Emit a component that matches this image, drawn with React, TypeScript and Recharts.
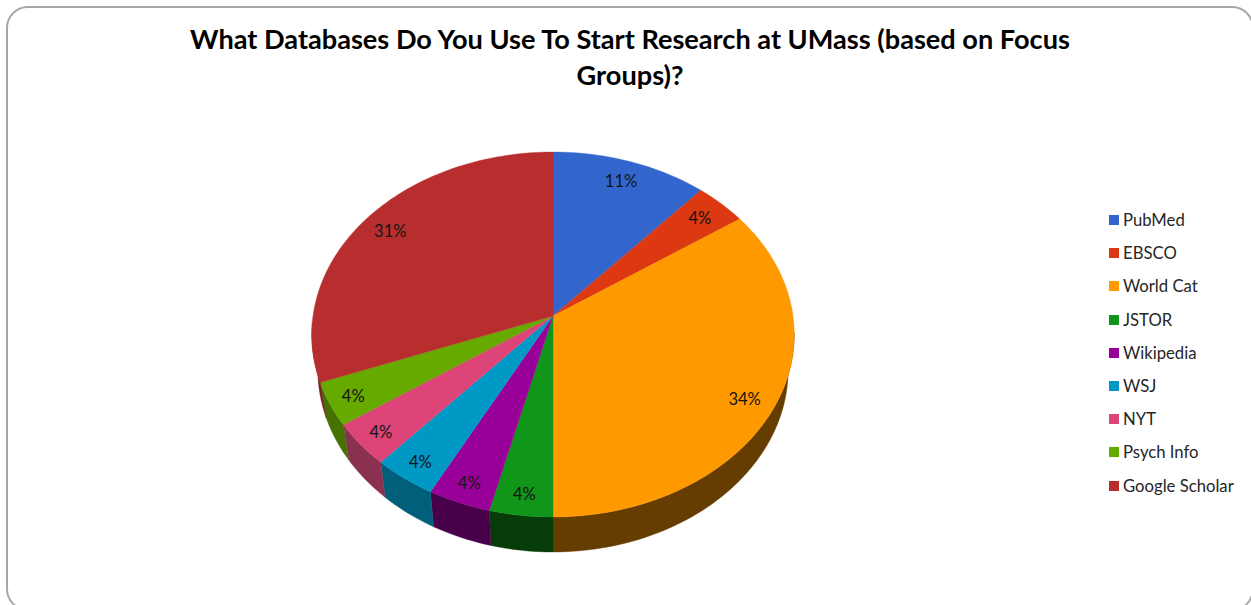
import React from "react";
import { PieChart, Pie, Legend } from "recharts";

const names = ["PubMed", "EBSCO", "World Cat", "JSTOR", "Wikipedia", "WSJ", "NYT", "Psych Info", "Google Scholar"];
const shares = [3, 1, 9, 1, 1, 1, 1, 1, 8];
const percentLabels = ["11%", "4%", "34%", "4%", "4%", "4%", "4%", "4%", "31%"];
const topColors = ["#3366cc", "#dc3912", "#ff9900", "#109618", "#990099", "#0099c6", "#dd4477", "#66aa00", "#b82e2e"];
const wallColors = ["#1f3d7a", "#84220b", "#663d00", "#063c0a", "#470049", "#005f7a", "#8a3050", "#457200", "#7a1f1f"];
const titleLines = ["What Databases Do You Use To Start Research at UMass (based on Focus", "Groups)?"];

const rows = names.map((name, i) => ({ name, value: shares[i], fill: topColors[i], wall: wallColors[i], pct: percentLabels[i] }));

const RAD = Math.PI / 180;
const TILT = 0.7525;
const PERSP = 0.1014;
const DEPTH = 35;
const FOOT = 0.975;

// Projects a point of the flat pie (clock angle, fraction of the radius) on the tilted disc.
function project(cx: number, cy: number, R: number, clock: number, r = 1) {
  const u = Math.sin(clock * RAD) * r;
  const v = Math.cos(clock * RAD) * r;
  const d = 1 + PERSP * v;
  return { x: cx + (R * u) / d, y: cy - (R * TILT * v) / d };
}

function arc(cx: number, cy: number, R: number, from: number, to: number) {
  const pts = [];
  const n = Math.max(2, Math.ceil((to - from) / 1.5));
  for (let i = 0; i <= n; i++) pts.push(project(cx, cy, R, from + ((to - from) * i) / n));
  return pts;
}

const toPath = (pts: { x: number; y: number }[]) =>
  pts.map((p, i) => `${i ? "L" : "M"}${p.x.toFixed(2)} ${p.y.toFixed(2)}`).join("") + "Z";

function TiltedSlice(props: any) {
  const { cx, cy, outerRadius: R, startAngle, endAngle, fill, wall } = props;
  const from = 90 - Math.max(startAngle, endAngle);
  const to = 90 - Math.min(startAngle, endAngle);
  const top = arc(cx, cy, R, from, to);
  const a = Math.max(from, 95);
  const b = Math.min(to, 268);
  let side = null;
  if (b > a) {
    const rim = arc(cx, cy, R, a, b);
    const foot = rim.map((p) => ({ x: cx + (p.x - cx) * FOOT, y: p.y + DEPTH })).reverse();
    side = <path d={toPath([...rim, ...foot])} fill={wall} stroke={wall} strokeWidth={0.4} />;
  }
  return (
    <g>
      {side}
      <path d={toPath([{ x: cx, y: cy }, ...top])} fill={fill} stroke={fill} strokeWidth={0.4} />
    </g>
  );
}

function SliceLabel(props: any) {
  const { cx, cy, outerRadius: R, midAngle, index, percent } = props;
  const clock = 90 - midAngle;
  const lower = Math.cos(clock * RAD) < 0;
  const small = percent < 0.1;
  const p = project(cx, cy, R, clock, lower && small ? 0.9 : 0.865);
  return (
    <text
      x={p.x}
      y={p.y + (lower ? (small ? 1 : 7) : 0)}
      textAnchor="middle"
      dominantBaseline="central"
      fontFamily="Lato"
      fontSize={16.5}
      fill="#141414"
    >
      {percentLabels[index]}
    </text>
  );
}

function LegendList({ payload }: any) {
  return (
    <div style={{ fontFamily: "Lato", fontSize: 16.7, color: "#262626" }}>
      {(payload || []).map((e: any) => (
        <div key={e.value} style={{ height: 33.2, display: "flex", alignItems: "center", whiteSpace: "nowrap" }}>
          <span style={{ width: 10, height: 10, background: e.color, marginRight: 4, flex: "none" }} />
          {e.value}
        </div>
      ))}
    </div>
  );
}

export default function App() {
  return (
    <div style={{ position: "absolute", left: 0, top: 0, width: 1251, height: 605, overflow: "hidden", background: "#fff" }}>
      <div
        style={{
          position: "absolute", left: 6, top: 6, width: 1248, height: 605, boxSizing: "border-box",
          border: "2px solid #a6a6a6", borderRadius: 22,
        }}
      />
      <div
        style={{
          position: "absolute", left: 0, top: 21, width: 1260, textAlign: "center", fontFamily: "Lato",
          fontWeight: 700, fontSize: 27.15, lineHeight: "36px", color: "#000",
        }}
      >
        {titleLines.map((t) => (
          <div key={t}>{t}</div>
        ))}
      </div>
      <div style={{ position: "absolute", left: 0, top: 0 }}>
        <PieChart width={1251} height={605} margin={{ top: 0, right: 0, bottom: 0, left: 0 }}>
          <Pie
            data={rows}
            dataKey="value"
            nameKey="name"
            cx={553}
            cy={316}
            outerRadius={240}
            startAngle={90}
            endAngle={-270}
            stroke="none"
            isAnimationActive={false}
            shape={TiltedSlice}
            label={SliceLabel}
            labelLine={false}
          />
          <Legend
            layout="vertical"
            align="right"
            verticalAlign="middle"
            itemSorter={null}
            content={LegendList}
            wrapperStyle={{ left: 1109, right: "auto", top: 203.5, width: 140 }}
          />
        </PieChart>
      </div>
    </div>
  );
}
